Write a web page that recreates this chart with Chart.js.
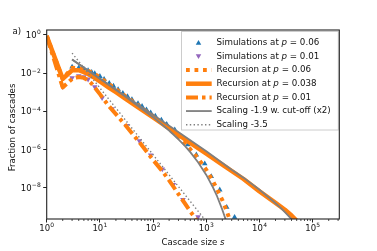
<!DOCTYPE html>
<html><head><meta charset="utf-8">
<script src="https://cdn.jsdelivr.net/npm/chart.js@4"></script>
<style>html,body{margin:0;padding:0;background:#fff;overflow:hidden}#wrap{width:377px;height:251px;position:relative}</style>
</head><body><div id="wrap"><canvas id="c" width="377" height="251"></canvas></div>
<script>
// ---- tick values / labels (base and exponent) ----
const xTickValues = [1, 10, 100, 1000, 10000, 100000];
const xTickExps = ['0', '1', '2', '3', '4', '5'];
const yTickValues = [1e-8, 1e-6, 1e-4, 1e-2, 1];
const yTickExps = ['\u22128', '\u22126', '\u22124', '\u22122', '0'];

// ---- Simulations at p = 0.06 (blue triangles) ----
const sSim006 = [3,4,5,6,7,8,10,12,15,18,22,27,33,40,52,62,75,90,110,143,180,255,330,450,650,935,1240,1790,2420,3400];
const fSim006 = [2.1e-2,1.9e-2,1.66e-2,1.38e-2,1.12e-2,9.5e-3,6.8e-3,4.8e-3,3.0e-3,2.1e-3,1.38e-3,8.9e-4,6.0e-4,4.2e-4,2.6e-4,1.82e-4,1.2e-4,8.5e-5,5.6e-5,3.5e-5,2.1e-5,1.07e-5,5.0e-6,1.78e-6,5.2e-7,1.78e-7,3.8e-8,7.6e-9,9.3e-10,2.8e-10];

// ---- Simulations at p = 0.01 (purple triangles) ----
const sSim001 = [2,3,4,5,6,8,11,17,32,55,90,149,240,364,700];
const fSim001 = [1.9e-3,5.6e-3,7.1e-3,6.3e-3,4.8e-3,1.9e-3,5.0e-4,1.32e-4,1.78e-5,2.8e-6,5.0e-7,9.3e-8,1.41e-8,2.3e-9,2.9e-10];

// ---- Recursion at p = 0.06 (orange dotted) ----
const sRec006 = [1,2,3,4,5,6,8,10,15,20,30,50,100,200,300,500,700,1000,1300,1600,2000,2400,2800];
const fRec006 = [0.89,5.0e-3,1.9e-2,1.8e-2,1.58e-2,1.32e-2,8.9e-3,6.0e-3,2.6e-3,1.45e-3,6.3e-4,2.3e-4,5.5e-5,1.17e-5,4.3e-6,1.02e-6,3.4e-7,8.5e-8,2.5e-8,7.9e-9,2.2e-9,6.3e-10,1.8e-10];

// ---- Recursion at p = 0.038 (orange solid) ----
const sRec0038 = [1,2,3,4,5,6,8,10,15,20,30,50,100,200,500,1000,2000,5000,10000,20000,30000,40000,52000];
const fRec0038 = [0.89,5.0e-3,1.41e-2,1.41e-2,1.12e-2,8.9e-3,5.6e-3,3.7e-3,1.7e-3,1.0e-3,4.6e-4,1.74e-4,4.7e-5,1.26e-5,2.2e-6,5.9e-7,1.58e-7,2.8e-8,6.3e-9,1.58e-9,6.8e-10,3.4e-10,1.6e-10];

// ---- Recursion at p = 0.01 (orange dash-dot) ----
const sRec001 = [1,2,3,4,5,6,7,8,10,12,15,20,30,55,100,150,200,300,400,500,600,700];
const fRec001 = [0.89,1.78e-3,5.0e-3,6.3e-3,5.6e-3,4.2e-3,2.8e-3,1.78e-3,7.9e-4,4.0e-4,1.78e-4,7.1e-5,1.9e-5,2.4e-6,2.8e-7,7.1e-8,2.4e-8,4.5e-9,1.41e-9,5.6e-10,2.8e-10,1.41e-10];

// ---- Scaling -1.9 with cut-off (two curves) ----
const sCutWide = [3,10,100,1000,3000,5000,10000,15000,20000,25000,30000,40000,50000];
const fCutWide = [5.1e-2,5.2e-3,6.5e-5,7.9e-7,8.5e-8,3.3e-8,7.6e-9,3.0e-9,1.5e-9,8.5e-10,5.1e-10,2.2e-10,1.05e-10];
const sCutNarrow = [3,10,30,100,200,300,400,500,700,1000,1300,1600,2000,2300,2500];
const fCutNarrow = [5.1e-2,5.0e-3,5.9e-4,4.9e-5,9.8e-6,3.4e-6,1.48e-6,7.2e-7,2.1e-7,4.6e-8,1.17e-8,3.4e-9,6.9e-10,2.2e-10,1.07e-10];

// ---- Scaling -3.5 (dotted) ----
const sSlope35 = [3, 1000];
const fSlope35 = [0.112, 1.66e-10];

const pts = (xs, ys) => xs.map((v, i) => ({x: v, y: ys[i]}));

const ORANGE = '#ff7f0e', BLUE = '#1f77b4', PURPLE = '#9467bd', GRAY = '#7f7f7f';
const FONT = '"DejaVu Sans", sans-serif';
const TXT = '#111';

const lineDs = (label, data, color, width, dash, order) => ({
  label, data, borderColor: color, backgroundColor: color, borderWidth: width,
  borderDash: dash, pointRadius: 0, showLine: true, tension: 0, order,
  borderCapStyle: 'butt', borderJoinStyle: 'round'
});

const legendItems = [
  {kind: 'tri', color: BLUE, rot: 0, parts: [['Simulations at ', 0], ['p', 1], [' = 0.06', 0]]},
  {kind: 'tri', color: PURPLE, rot: 180, parts: [['Simulations at ', 0], ['p', 1], [' = 0.01', 0]]},
  {kind: 'line', color: ORANGE, w: 4, dash: [3.8, 4.7], parts: [['Recursion at ', 0], ['p', 1], [' = 0.06', 0]]},
  {kind: 'line', color: ORANGE, w: 4.5, dash: [], parts: [['Recursion at ', 0], ['p', 1], [' = 0.038', 0]]},
  {kind: 'line', color: ORANGE, w: 4, dash: [12, 4, 3.5, 4], parts: [['Recursion at ', 0], ['p', 1], [' = 0.01', 0]]},
  {kind: 'line', color: GRAY, w: 1.8, dash: [], parts: [['Scaling -1.9 w. cut-off (x2)', 0]]},
  {kind: 'line', color: GRAY, w: 1.4, dash: [1.4, 2.4], parts: [['Scaling -3.5', 0]]}
];

function tri(ctx, x, y, r, rotDeg, color) {
  let rad = rotDeg * Math.PI / 180;
  ctx.beginPath();
  ctx.moveTo(x + Math.sin(rad) * r, y - Math.cos(rad) * r);
  rad += 2 * Math.PI / 3;
  ctx.lineTo(x + Math.sin(rad) * r, y - Math.cos(rad) * r);
  rad += 2 * Math.PI / 3;
  ctx.lineTo(x + Math.sin(rad) * r, y - Math.cos(rad) * r);
  ctx.closePath();
  ctx.fillStyle = color; ctx.fill();
}

function rich(ctx, parts, x, y, size) {
  let cx = x;
  for (const [t, it] of parts) {
    ctx.font = (it ? 'italic ' : '') + size + 'px ' + FONT;
    ctx.fillText(t, cx, y);
    cx += ctx.measureText(t).width;
  }
  return cx - x;
}

const BASE = 8.5, EXP = 6;
function powLabelWidth(ctx, e) {
  ctx.font = BASE + 'px ' + FONT; const w1 = ctx.measureText('10').width;
  ctx.font = EXP + 'px ' + FONT; const w2 = ctx.measureText(e).width;
  return [w1, w2];
}
function drawPow(ctx, e, left, baseline) {
  const [w1] = powLabelWidth(ctx, e);
  ctx.font = BASE + 'px ' + FONT; ctx.fillText('10', left, baseline);
  ctx.font = EXP + 'px ' + FONT; ctx.fillText(e, left + w1 + 0.3, baseline - 3.8);
}

const decor = {
  id: 'decor',
  afterDraw(chart) {
    const {ctx, chartArea: a, scales: {x, y}} = chart;
    ctx.save();
    // minor ticks on x
    ctx.strokeStyle = '#222'; ctx.lineWidth = 0.8;
    for (let k = 0; k <= 5; k++) {
      for (let m = 2; m <= 9; m++) {
        const v = m * Math.pow(10, k);
        if (v > x.max) continue;
        const px = x.getPixelForValue(v);
        ctx.beginPath(); ctx.moveTo(px, a.bottom); ctx.lineTo(px, a.bottom + 2); ctx.stroke();
      }
    }
    // tick labels
    ctx.fillStyle = TXT; ctx.textBaseline = 'alphabetic'; ctx.textAlign = 'left';
    xTickValues.forEach((v, i) => {
      const px = x.getPixelForValue(v);
      const [w1, w2] = powLabelWidth(ctx, xTickExps[i]);
      drawPow(ctx, xTickExps[i], px - (w1 + w2 + 0.3) / 2, a.bottom + 12.2);
    });
    yTickValues.forEach((v, i) => {
      const py = y.getPixelForValue(v);
      const [w1, w2] = powLabelWidth(ctx, yTickExps[i]);
      drawPow(ctx, yTickExps[i], a.left - 6 - (w1 + w2 + 0.3), py + 3.2);
    });
    // legend box
    const bx = 181, by = a.top + 1, bw = a.right - 1.5 - bx, bh = 98.5;
    ctx.fillStyle = 'rgba(255,255,255,0.85)';
    ctx.fillRect(bx, by, bw, bh);
    ctx.strokeStyle = '#cccccc'; ctx.lineWidth = 1;
    ctx.strokeRect(bx + 0.5, by + 0.5, bw, bh);
    ctx.textBaseline = 'middle'; ctx.textAlign = 'left';
    legendItems.forEach((it, i) => {
      const cy = 42.7 + i * 13.67;
      if (it.kind === 'tri') {
        tri(ctx, 198.5, cy + (it.rot ? -0.5 : 0.5), 3.2, it.rot, it.color);
      } else {
        ctx.strokeStyle = it.color; ctx.lineWidth = it.w; ctx.setLineDash(it.dash); ctx.lineCap = 'butt';
        ctx.beginPath(); ctx.moveTo(186, cy); ctx.lineTo(211.7, cy); ctx.stroke();
        ctx.setLineDash([]);
      }
      ctx.fillStyle = TXT;
      rich(ctx, it.parts, 216.5, cy, 8.7);
    });
    // frame
    ctx.strokeStyle = '#222'; ctx.lineWidth = 1.1;
    ctx.strokeRect(a.left, a.top, a.right - a.left, a.bottom - a.top);
    // axis titles
    ctx.fillStyle = TXT; ctx.textBaseline = 'middle';
    const p1 = 'Cascade size ', p2 = 's';
    ctx.font = '8.6px ' + FONT; const w1 = ctx.measureText(p1).width;
    ctx.font = 'italic 8.6px ' + FONT; const w2 = ctx.measureText(p2).width;
    const cxm = (a.left + a.right) / 2;
    rich(ctx, [[p1, 0], [p2, 1]], cxm - (w1 + w2) / 2, 242.3, 8.6);
    ctx.save();
    ctx.translate(13, (a.top + a.bottom) / 2 + 3);
    ctx.rotate(-Math.PI / 2);
    ctx.textAlign = 'center'; ctx.font = '8.6px ' + FONT;
    ctx.fillText('Fraction of cascades', 0, 0);
    ctx.restore();
    ctx.textAlign = 'left'; ctx.textBaseline = 'alphabetic';
    ctx.font = '8.6px ' + FONT;
    ctx.fillText('a)', 12.5, 33.5);
    ctx.restore();
  }
};

new Chart(document.getElementById('c'), {
  type: 'line',
  data: {
    datasets: [
      {label: 'Simulations at p = 0.06', data: pts(sSim006, fSim006), showLine: false, pointStyle: 'triangle', pointRadius: 3.2, pointBackgroundColor: BLUE, pointBorderWidth: 0, borderColor: BLUE, order: 6},
      {label: 'Simulations at p = 0.01', data: pts(sSim001, fSim001), showLine: false, pointStyle: 'triangle', pointRotation: 180, pointRadius: 3.2, pointBackgroundColor: PURPLE, pointBorderWidth: 0, borderColor: PURPLE, order: 5},
      lineDs('Recursion at p = 0.06', pts(sRec006, fRec006), ORANGE, 4, [3.8, 4.7], 4),
      lineDs('Recursion at p = 0.038', pts(sRec0038, fRec0038), ORANGE, 4.5, [], 3),
      lineDs('Recursion at p = 0.01', pts(sRec001, fRec001), ORANGE, 4, [12, 4, 3.5, 4], 2),
      lineDs('Scaling -1.9 w. cut-off (x2)', pts(sCutWide, fCutWide), GRAY, 1.8, [], 1),
      lineDs('Scaling -1.9 w. cut-off (x2) b', pts(sCutNarrow, fCutNarrow), GRAY, 1.8, [], 1),
      lineDs('Scaling -3.5', pts(sSlope35, fSlope35), GRAY, 1.4, [1.4, 2.4], 0)
    ]
  },
  options: {
    responsive: false, animation: false, devicePixelRatio: 1,
    layout: {padding: {left: 0, top: 30, right: 37.7, bottom: 0}},
    plugins: {legend: {display: false}, tooltip: {enabled: false}},
    scales: {
      x: {
        type: 'logarithmic', position: 'bottom', min: 1, max: 316228,
        afterBuildTicks: s => { s.ticks = xTickValues.map(v => ({value: v})); },
        afterFit: s => { s.height = 32; },
        grid: {drawOnChartArea: false, drawTicks: true, tickLength: 3.5, tickColor: '#222', lineWidth: 1},
        border: {display: false},
        ticks: {autoSkip: false, maxRotation: 0, padding: 1.5, font: {family: FONT, size: 8}, callback: () => ''}
      },
      y: {
        type: 'logarithmic', position: 'left', min: 2.24e-10, max: 1.82,
        afterBuildTicks: s => { s.ticks = yTickValues.map(v => ({value: v})); },
        afterFit: s => { s.width = 46.7; },
        grid: {drawOnChartArea: false, drawTicks: true, tickLength: 3.5, tickColor: '#222', lineWidth: 1},
        border: {display: false},
        ticks: {autoSkip: false, padding: 2.5, font: {family: FONT, size: 8}, callback: () => ''}
      }
    }
  },
  plugins: [decor]
});
</script>
</body></html>
